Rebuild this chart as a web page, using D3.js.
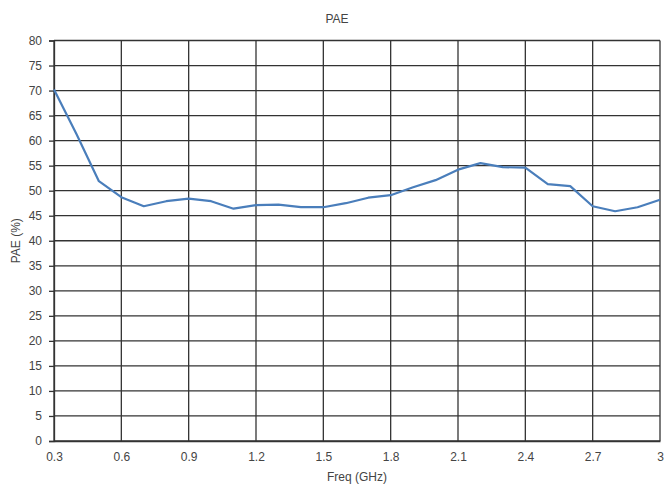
<!DOCTYPE html>
<html><head><meta charset="utf-8">
<script src="https://cdn.jsdelivr.net/npm/d3@7"></script>
<style>body{margin:0;background:#fff;} text{font-family:"Liberation Sans",Arial,sans-serif;}</style>
</head><body>
<svg id="chart" width="665" height="487"></svg>
<script>
const freq = [0.3,0.4,0.5,0.6,0.7,0.8,0.9,1.0,1.1,1.2,1.3,1.4,1.5,1.6,1.7,1.8,1.9,2.0,2.1,2.2,2.3,2.4,2.5,2.6,2.7,2.8,2.9,3.0];
const pae  = [70.2,61.3,51.9,48.7,46.9,47.9,48.4,47.9,46.4,47.1,47.2,46.7,46.7,47.5,48.6,49.1,50.7,52.1,54.2,55.5,54.7,54.6,51.3,50.9,46.9,45.9,46.7,48.2];
const xTicks = [0.3,0.6,0.9,1.2,1.5,1.8,2.1,2.4,2.7,3.0];
const xTickLabels = ["0.3","0.6","0.9","1.2","1.5","1.8","2.1","2.4","2.7","3"];
const yTicks = [0,5,10,15,20,25,30,35,40,45,50,55,60,65,70,75,80];

const svg = d3.select("#chart");
const L = 54, R = 660, T = 40.5, B = 441;
const x = d3.scaleLinear().domain([0.3,3.0]).range([L,R]);
const y = d3.scaleLinear().domain([0,80]).range([B,T]);
const gridColor = "#333";

// grid
svg.append("g").selectAll("line").data(yTicks).join("line")
  .attr("x1",L).attr("x2",R).attr("y1",d=>y(d)).attr("y2",d=>y(d))
  .attr("stroke",gridColor).attr("stroke-width",1.3);
svg.append("g").selectAll("line").data(xTicks).join("line")
  .attr("x1",d=>x(d)).attr("x2",d=>x(d)).attr("y1",T).attr("y2",B)
  .attr("stroke",gridColor).attr("stroke-width",1.3);

// axes
const yAxis = d3.axisLeft(y).tickValues(yTicks).tickSize(5).tickPadding(7).tickFormat(d3.format("d"));
const gy = svg.append("g").attr("transform",`translate(${L},0)`).call(yAxis);
const xAxis = d3.axisBottom(x).tickValues(xTicks).tickSize(0).tickPadding(11).tickFormat((d,i)=>xTickLabels[i]);
const gx = svg.append("g").attr("transform",`translate(0,${B})`).call(xAxis);
[gy,gx].forEach(g=>{
  g.select(".domain").attr("stroke",gridColor).attr("stroke-width",1.3);
  g.selectAll(".tick line").attr("stroke",gridColor).attr("stroke-width",1.3);
  g.selectAll(".tick text").attr("fill","#444").attr("font-size",12).attr("font-family","Liberation Sans, Arial, sans-serif");
});

// line
svg.append("path").datum(freq.map((f,i)=>[f,pae[i]]))
  .attr("fill","none").attr("stroke","#4a7ebb").attr("stroke-width",2.2)
  .attr("stroke-linejoin","round")
  .attr("d",d3.line().x(d=>x(d[0])).y(d=>y(d[1])));

// titles
svg.append("text").attr("x",337).attr("y",23).attr("text-anchor","middle")
  .attr("font-size",12).attr("fill","#444").text("PAE");
svg.append("text").attr("x",(L+R)/2).attr("y",481).attr("text-anchor","middle")
  .attr("font-size",12).attr("fill","#444").text("Freq (GHz)");
svg.append("text").attr("transform",`translate(20,${(T+B)/2}) rotate(-90)`).attr("text-anchor","middle")
  .attr("font-size",12).attr("fill","#444").text("PAE (%)");
</script>
</body></html>
